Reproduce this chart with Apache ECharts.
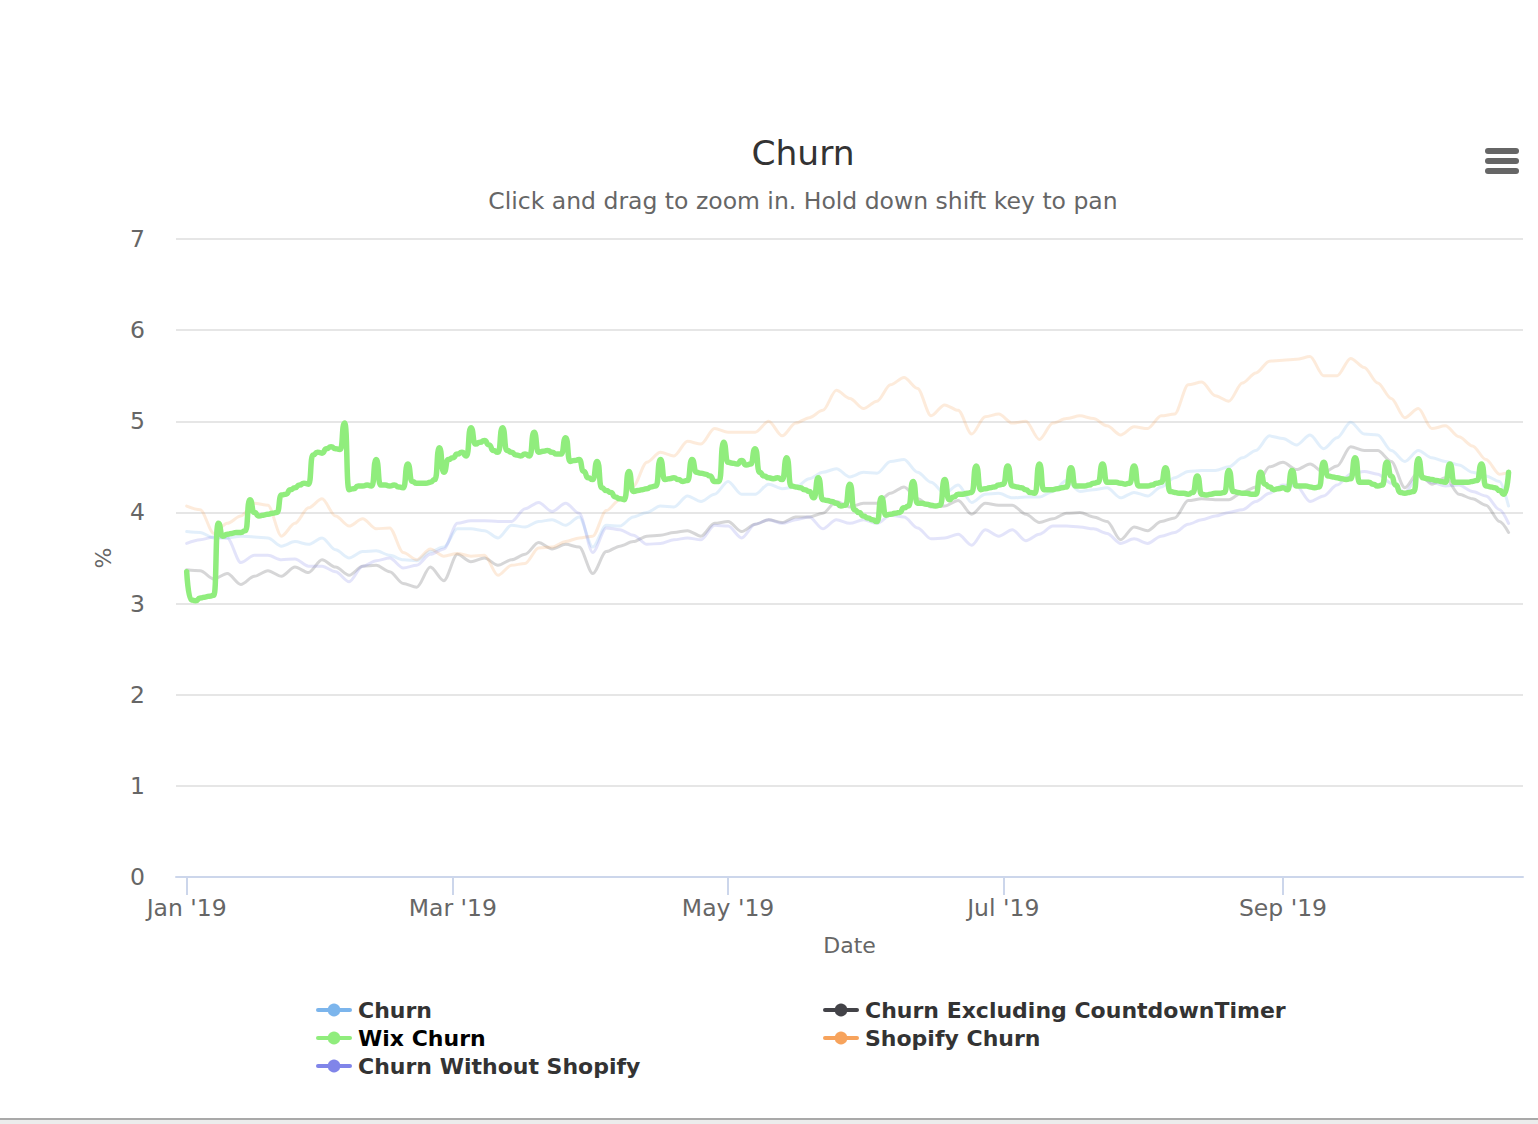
<!DOCTYPE html>
<html>
<head>
<meta charset="utf-8">
<title>Churn</title>
<script src="https://cdn.jsdelivr.net/npm/echarts@6.0.0/dist/echarts.min.js"></script>
<style>
html,body{margin:0;padding:0;background:#fff;}
#chart{width:1538px;height:1124px;}
</style>
</head>
<body>
<div id="chart"></div>
<script>
// ---------- data ----------
const seriesNames = ['Churn', 'Churn Excluding CountdownTimer', 'Wix Churn', 'Shopify Churn', 'Churn Without Shopify'];
const seriesColors = ['#7cb5ec', '#434348', '#90ed7d', '#f7a35c', '#8085e9'];
const startDateUTC = Date.UTC(2019, 0, 1);
const DAY = 86400000;

// daily Wix Churn, from 2019-01-01
const wixChurn = [
  3.35, 3.04, 3.03, 3.06, 3.07, 3.08, 3.09,
  3.88, 3.74, 3.76, 3.77, 3.78, 3.78, 3.80,
  4.14, 4.00, 3.96, 3.97, 3.98, 3.99, 4.00,
  4.19, 4.20, 4.25, 4.27, 4.30, 4.32, 4.31,
  4.63, 4.66, 4.65, 4.70, 4.72, 4.70, 4.69,
  4.98, 4.25, 4.26, 4.29, 4.29, 4.30, 4.29,
  4.58, 4.30, 4.30, 4.29, 4.30, 4.28, 4.27,
  4.53, 4.34, 4.32, 4.32, 4.32, 4.33, 4.36,
  4.71, 4.44, 4.58, 4.60, 4.64, 4.66, 4.62,
  4.93, 4.75, 4.77, 4.79, 4.74, 4.68, 4.66,
  4.93, 4.68, 4.66, 4.63, 4.62, 4.64, 4.62,
  4.88, 4.66, 4.67, 4.68, 4.66, 4.64, 4.64,
  4.82, 4.56, 4.57, 4.58, 4.45, 4.38, 4.36,
  4.56, 4.27, 4.24, 4.22, 4.17, 4.15, 4.14,
  4.45, 4.23, 4.24, 4.25, 4.26, 4.28, 4.29,
  4.58, 4.36, 4.37, 4.38, 4.36, 4.34, 4.35,
  4.58, 4.44, 4.43, 4.42, 4.40, 4.34, 4.34,
  4.77, 4.55, 4.54, 4.53, 4.57, 4.52, 4.53,
  4.70, 4.44, 4.40, 4.38, 4.37, 4.38, 4.36,
  4.60, 4.29, 4.28, 4.27, 4.25, 4.23, 4.16,
  4.38, 4.14, 4.13, 4.12, 4.10, 4.07, 4.08,
  4.31, 4.03, 4.00, 3.96, 3.94, 3.92, 3.90,
  4.16, 3.97, 3.98, 3.99, 4.00, 4.05, 4.07,
  4.34, 4.10, 4.10, 4.09, 4.08, 4.07, 4.08,
  4.36, 4.14, 4.17, 4.20, 4.20, 4.21, 4.22,
  4.51, 4.25, 4.26, 4.27, 4.28, 4.30, 4.31,
  4.51, 4.29, 4.28, 4.27, 4.25, 4.22, 4.21,
  4.53, 4.25, 4.25, 4.25, 4.26, 4.27, 4.28,
  4.49, 4.29, 4.29, 4.29, 4.30, 4.32, 4.33,
  4.53, 4.33, 4.33, 4.33, 4.32, 4.31, 4.32,
  4.51, 4.29, 4.29, 4.29, 4.30, 4.32, 4.33,
  4.49, 4.23, 4.22, 4.21, 4.21, 4.20, 4.22,
  4.40, 4.20, 4.19, 4.20, 4.21, 4.21, 4.22,
  4.46, 4.23, 4.22, 4.21, 4.21, 4.20, 4.20,
  4.44, 4.31, 4.28, 4.25, 4.26, 4.27, 4.25,
  4.46, 4.29, 4.29, 4.29, 4.28, 4.27, 4.28,
  4.55, 4.40, 4.39, 4.38, 4.37, 4.36, 4.37,
  4.60, 4.33, 4.33, 4.33, 4.31, 4.29, 4.30,
  4.55, 4.40, 4.30, 4.22, 4.21, 4.22, 4.23,
  4.59, 4.38, 4.37, 4.36, 4.35, 4.34, 4.33,
  4.53, 4.33, 4.33, 4.33, 4.33, 4.34, 4.35,
  4.53, 4.29, 4.28, 4.27, 4.24, 4.20, 4.44
];

// the other four series, read every third day (day offsets from 2019-01-01)
const sampleDays = [];
for (let d = 0; d <= 291; d += 3) sampleDays.push(d);
sampleDays.push(293);

const churn = [
  3.79, 3.78, 3.72, 3.72, 3.74, 3.73, 3.72, 3.63, 3.68, 3.65,
  3.72, 3.59, 3.50, 3.57, 3.58, 3.53, 3.48, 3.47, 3.57, 3.62,
  3.82, 3.82, 3.80, 3.72, 3.86, 3.84, 3.90, 3.92, 3.86, 3.95,
  3.62, 3.86, 3.85, 3.95, 4.00, 4.07, 4.06, 4.18, 4.12, 4.20,
  4.34, 4.20, 4.20, 4.31, 4.26, 4.28, 4.37, 4.44, 4.48, 4.39,
  4.44, 4.43, 4.56, 4.58, 4.44, 4.33, 4.21, 4.30, 4.11, 4.20,
  4.21, 4.16, 4.17, 4.17, 4.23, 4.35, 4.23, 4.25, 4.27, 4.16,
  4.22, 4.18, 4.28, 4.38, 4.45, 4.46, 4.46, 4.50, 4.60, 4.68,
  4.84, 4.81, 4.74, 4.85, 4.70, 4.82, 4.99, 4.86, 4.85, 4.68,
  4.56, 4.68, 4.60, 4.56, 4.52, 4.44, 4.40, 4.34, 4.07
];

const churnExclCountdownTimer = [
  3.37, 3.36, 3.27, 3.33, 3.21, 3.30, 3.36, 3.30, 3.40, 3.34,
  3.48, 3.40, 3.31, 3.41, 3.42, 3.35, 3.22, 3.18, 3.40, 3.25,
  3.54, 3.46, 3.50, 3.42, 3.48, 3.54, 3.67, 3.60, 3.65, 3.62,
  3.33, 3.57, 3.63, 3.68, 3.74, 3.75, 3.78, 3.80, 3.74, 3.88,
  3.90, 3.79, 3.87, 3.92, 3.89, 3.95, 3.95, 3.99, 4.12, 4.06,
  4.10, 4.10, 4.21, 4.28, 4.15, 4.06, 4.07, 4.13, 3.98, 4.10,
  4.08, 4.08, 3.98, 3.89, 3.93, 3.99, 4.00, 3.95, 3.90, 3.70,
  3.84, 3.80, 3.90, 3.94, 4.13, 4.15, 4.14, 4.14, 4.22, 4.28,
  4.50, 4.55, 4.47, 4.53, 4.44, 4.51, 4.72, 4.68, 4.68, 4.56,
  4.27, 4.44, 4.31, 4.38, 4.20, 4.15, 4.08, 3.90, 3.78
];

const shopifyChurn = [
  4.07, 4.03, 3.77, 3.88, 3.96, 4.10, 4.08, 3.74, 3.88, 4.05,
  4.15, 3.96, 3.85, 3.93, 3.82, 3.83, 3.56, 3.48, 3.60, 3.52,
  3.55, 3.52, 3.53, 3.31, 3.42, 3.44, 3.61, 3.62, 3.68, 3.72,
  3.74, 4.02, 4.14, 4.29, 4.55, 4.66, 4.62, 4.78, 4.75, 4.92,
  4.88, 4.88, 4.88, 5.00, 4.84, 4.98, 5.04, 5.12, 5.34, 5.25,
  5.14, 5.22, 5.40, 5.48, 5.36, 5.06, 5.18, 5.12, 4.86, 5.05,
  5.08, 4.98, 5.00, 4.80, 4.98, 5.03, 5.06, 5.03, 4.95, 4.85,
  4.94, 4.92, 5.06, 5.08, 5.40, 5.43, 5.28, 5.22, 5.42, 5.53,
  5.66, 5.67, 5.68, 5.71, 5.50, 5.50, 5.69, 5.59, 5.42, 5.25,
  5.04, 5.14, 4.92, 4.95, 4.83, 4.73, 4.58, 4.42, 4.44
];

const churnWithoutShopify = [
  3.66, 3.70, 3.73, 3.72, 3.45, 3.53, 3.53, 3.48, 3.49, 3.41,
  3.41, 3.35, 3.24, 3.41, 3.47, 3.50, 3.39, 3.42, 3.54, 3.60,
  3.88, 3.91, 3.91, 3.90, 3.90, 4.04, 4.11, 4.01, 4.10, 3.99,
  3.56, 3.83, 3.81, 3.75, 3.65, 3.66, 3.70, 3.72, 3.70, 3.86,
  3.85, 3.72, 3.87, 3.92, 3.88, 3.92, 3.95, 3.82, 3.92, 3.88,
  3.92, 3.88, 3.97, 3.95, 3.83, 3.71, 3.72, 3.76, 3.64, 3.81,
  3.74, 3.81, 3.69, 3.76, 3.85, 3.85, 3.84, 3.82, 3.77, 3.66,
  3.71, 3.66, 3.74, 3.78, 3.87, 3.92, 3.96, 4.00, 4.03, 4.12,
  4.21, 4.30, 4.29, 4.12, 4.18, 4.30, 4.42, 4.45, 4.42, 4.32,
  4.22, 4.40, 4.33, 4.29, 4.30, 4.23, 4.18, 4.03, 3.88
];

const xTickDates = [[2019, 0, 1], [2019, 2, 1], [2019, 4, 1], [2019, 6, 1], [2019, 8, 1]];
const xTickLabels = ["Jan '19", "Mar '19", "May '19", "Jul '19", "Sep '19"];
const yMin = 0, yMax = 7, yStep = 1;

// ---------- build ----------
const FONT = 'DejaVu Sans';
const xTickValues = xTickDates.map(a => Date.UTC(a[0], a[1], a[2]));

function daily(values) {
  return values.map((v, i) => [startDateUTC + i * DAY, v]);
}
function sampled(values) {
  return values.map((v, i) => [startDateUTC + sampleDays[i] * DAY, v]);
}

const seriesData = {
  'Churn': sampled(churn),
  'Churn Excluding CountdownTimer': sampled(churnExclCountdownTimer),
  'Wix Churn': daily(wixChurn),
  'Shopify Churn': sampled(shopifyChurn),
  'Churn Without Shopify': sampled(churnWithoutShopify)
};

const series = seriesNames.map((name, i) => {
  const active = name === 'Wix Churn';
  return {
    name: name,
    type: 'line',
    data: seriesData[name],
    color: seriesColors[i],
    symbol: 'circle',
    symbolSize: 13,
    showSymbol: false,
    smooth: active ? 0.65 : 0.3,
    smoothMonotone: 'x',
    z: active ? 5 : 2,
    lineStyle: {
      width: active ? 5.5 : 3,
      opacity: active ? 1 : 0.22,
      join: 'round',
      cap: 'round'
    },
    itemStyle: { opacity: 1 },
    emphasis: { disabled: true },
    silent: true,
    animation: false
  };
});

const legendCommon = {
  orient: 'vertical',
  top: 999,
  padding: 0,
  itemWidth: 32,
  itemHeight: 16,
  itemGap: 6,
  selectedMode: false,
  lineStyle: { opacity: 1, width: 4 },
  itemStyle: { opacity: 1 },
  textStyle: {
    fontFamily: FONT, fontSize: 22, fontWeight: 'bold', color: '#333',
    lineHeight: 22, padding: [0, 0, 0, 3]
  }
};

const chart = echarts.init(document.getElementById('chart'), null, { renderer: 'svg' });
chart.setOption({
  animation: false,
  backgroundColor: '#ffffff',
  title: {
    text: 'Churn',
    subtext: 'Click and drag to zoom in. Hold down shift key to pan',
    left: 803,
    top: 135,
    textAlign: 'center',
    padding: 0,
    itemGap: 19,
    textStyle: { fontFamily: FONT, fontSize: 34.5, fontWeight: 'normal', color: '#333333' },
    subtextStyle: { fontFamily: FONT, fontSize: 23.5, color: '#666666' }
  },
  legend: [
    Object.assign({}, legendCommon, {
      left: 316,
      data: ['Churn', { name: 'Wix Churn', textStyle: { color: '#000000' } }, 'Churn Without Shopify']
    }),
    Object.assign({}, legendCommon, {
      left: 823,
      data: ['Churn Excluding CountdownTimer', 'Shopify Churn']
    })
  ],
  grid: { left: 176, right: 15, top: 239, bottom: 247, containLabel: false },
  xAxis: {
    type: 'value',
    min: startDateUTC - 2.37 * DAY,
    max: startDateUTC + 296.2 * DAY,
    splitLine: { show: false },
    axisLine: { show: true, lineStyle: { color: '#ccd6eb', width: 2 } },
    axisTick: { show: true, length: 18, lineStyle: { color: '#ccd6eb', width: 2 }, customValues: xTickValues },
    axisLabel: {
      customValues: xTickValues,
      formatter: v => xTickLabels[xTickValues.indexOf(v)] || '',
      color: '#666666', fontFamily: FONT, fontSize: 23.5, margin: 19
    },
    name: 'Date',
    nameLocation: 'middle',
    nameGap: 57,
    nameTextStyle: { color: '#666666', fontFamily: FONT, fontSize: 22 }
  },
  yAxis: {
    type: 'value',
    min: yMin, max: yMax, interval: yStep,
    axisLine: { show: false },
    axisTick: { show: false },
    splitLine: { lineStyle: { color: '#e6e6e6', width: 2 } },
    axisLabel: { color: '#666666', fontFamily: FONT, fontSize: 23.5, margin: 31 },
    name: '%',
    nameLocation: 'middle',
    nameRotate: 90,
    nameGap: 62,
    nameTextStyle: { color: '#666666', fontFamily: FONT, fontSize: 22 }
  },
  graphic: [
    { type: 'rect', shape: { x: 1485, y: 148, width: 34, height: 6, r: 3 }, style: { fill: '#666666' }, silent: true },
    { type: 'rect', shape: { x: 1485, y: 158, width: 34, height: 6, r: 3 }, style: { fill: '#666666' }, silent: true },
    { type: 'rect', shape: { x: 1485, y: 168, width: 34, height: 6, r: 3 }, style: { fill: '#666666' }, silent: true },
    { type: 'rect', shape: { x: 0, y: 1118, width: 1538, height: 2 }, style: { fill: '#a9a9a9' }, silent: true },
    { type: 'rect', shape: { x: 0, y: 1120, width: 1538, height: 4 }, style: { fill: '#ececec' }, silent: true }
  ],
  series: series
});
</script>
</body>
</html>
